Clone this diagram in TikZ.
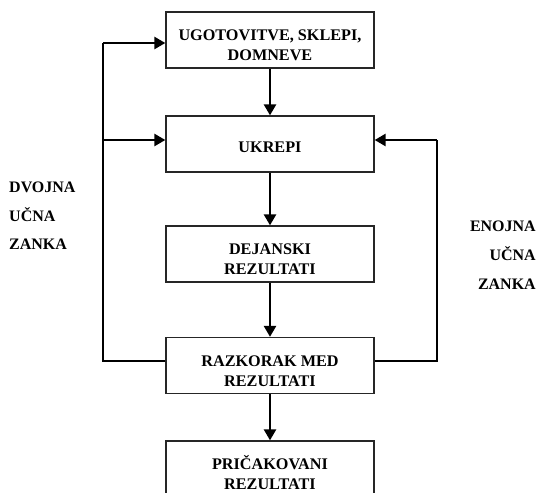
\documentclass[tikz,border=0pt]{standalone}
\usepackage{fontspec}
\setmainfont{Liberation Serif}
\usetikzlibrary{arrows.meta}
\begin{document}
\begin{tikzpicture}[x=1pt,y=-1pt,
  box/.style={draw=black!85,line width=1.3pt,minimum width=208pt,minimum height=56pt,inner sep=0pt},
  boxtext/.style={font=\bfseries\fontsize{16.2}{20}\selectfont,align=center,inner sep=0pt},
  sidetext/.style={font=\bfseries\fontsize{16}{20}\selectfont,inner sep=0pt},
  flow/.style={line width=2.5pt,-{Triangle[length=11pt,width=12pt]}},
  loop/.style={line width=2.5pt}]
\useasboundingbox (0,0) rectangle (539,493);

% boxes of the chain
\node[box] (b1) at (270,40) {};
\node[box] (b2) at (270,144) {};
\node[box] (b3) at (270,254) {};
\node[box] (b4) at (270,365.5) {};
\node[box] (b5) at (270,469) {};

% box texts sit a little below the box centres
\node[boxtext] (t1) at ([yshift=-5]b1.center) {UGOTOVITVE, SKLEPI,\\DOMNEVE};
\node[boxtext] (t2) at ([yshift=-3]b2.center) {UKREPI};
\node[boxtext] (t3) at ([yshift=-5.5]b3.center) {DEJANSKI\\REZULTATI};
\node[boxtext] (t4) at ([yshift=-6]b4.center) {RAZKORAK MED\\REZULTATI};
\node[boxtext] (t5) at ([yshift=-4]b5.center) {PRIČAKOVANI\\REZULTATI};

% main downward flow
\draw[flow] (b1) -- (b2);
\draw[flow] (b2) -- (b3);
\draw[flow] (b3) -- (b4);
\draw[flow] (b4) -- (b5);

% double learning loop (left)
\coordinate (lb) at (103,361);
\coordinate (lm) at (103,140);
\coordinate (lt) at (103,43);
\draw[loop] (b4.west |- lb) -- (lb) -- (lt);
\draw[flow] (lt) -- (b1.west |- lt);
\draw[flow] (lm) -- (b2.west |- lm);

% single learning loop (right)
\coordinate (rb) at (437,361);
\coordinate (rt) at (437,140);
\draw[loop] (b4.east |- rb) -- (rb) -- (rt);
\draw[flow] (rt) -- (b2.east |- rt);

% loop labels
\node[sidetext,anchor=base west] (dv1) at (9,192.5) {DVOJNA};
\node[sidetext,anchor=base west] (dv2) at (9,221.5) {UČNA};
\node[sidetext,anchor=base west] (dv3) at (9,249.5) {ZANKA};

\node[sidetext,anchor=base east] (en1) at (536,231.5) {ENOJNA};
\node[sidetext,anchor=base east] (en2) at (536,260.5) {UČNA};
\node[sidetext,anchor=base east] (en3) at (536,289.5) {ZANKA};
\end{tikzpicture}
\end{document}
